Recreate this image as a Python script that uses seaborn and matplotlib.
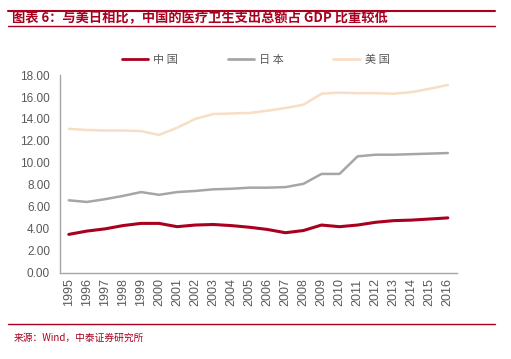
import numpy as np
import pandas as pd
import matplotlib
matplotlib.use("Agg")
import matplotlib.pyplot as plt
import seaborn as sns
from matplotlib.ticker import FixedLocator, FormatStrFormatter

years = list(range(1995, 2017))
china = [3.5, 3.8, 4.0, 4.3, 4.5, 4.5, 4.2, 4.35, 4.4, 4.3, 4.15,
         3.95, 3.65, 3.85, 4.35, 4.2, 4.35, 4.6, 4.75, 4.8, 4.9, 5.0]
japan = [6.6, 6.45, 6.7, 7.0, 7.35, 7.1, 7.35, 7.45, 7.6, 7.65, 7.75,
         7.75, 7.8, 8.1, 9.0, 9.0, 10.6, 10.75, 10.75, 10.8, 10.85, 10.9]
usa = [13.1, 13.0, 12.95, 12.95, 12.9, 12.55, 13.2, 14.0, 14.45, 14.5, 14.55,
       14.75, 15.0, 15.3, 16.3, 16.4, 16.35, 16.35, 16.3, 16.45, 16.75, 17.1]
names = ["中国", "日本", "美国"]
colors = ["#A8001E", "#A6A6A6", "#F7DEC5"]

df = pd.DataFrame({"year": years * 3,
                   "value": china + japan + usa,
                   "country": [n for n in names for _ in years]})

sns.set_style("white")
plt.rcParams['font.family'] = ['Noto Sans CJK SC', 'DejaVu Sans']

fig = plt.figure(figsize=(5.11, 3.59), dpi=100)
ax = fig.add_axes([0.117, 0.24, 0.777, 0.551])
sns.lineplot(data=df, x="year", y="value", hue="country", hue_order=names,
             palette=colors, linewidth=1.8, ax=ax, legend=False)
ax.lines[0].set_linewidth(2.2)

ax.set_xlim(1994.5, 2016.5)
ax.set_ylim(0, 18)
ax.set_xticks(years)
ax.set_xticklabels([str(y) for y in years], rotation=90, fontsize=9,
                   color="#595959", family="Liberation Sans")
ax.xaxis.set_minor_locator(FixedLocator(np.arange(1994.5, 2017, 1)))
ax.tick_params(axis="x", which="major", length=0, pad=4)
ax.tick_params(axis="x", which="minor", length=4, color="#A6A6A6", direction="out")
ax.set_yticks(np.arange(0, 19, 2))
ax.yaxis.set_major_formatter(FormatStrFormatter("%.2f"))
ax.tick_params(axis="y", length=4, color="#A6A6A6", direction="out", labelsize=8.5,
               labelcolor="#595959", pad=3)
for lab in ax.get_yticklabels():
    lab.set_family("Liberation Sans")
ax.set_xlabel("")
ax.set_ylabel("")
for s in ["top", "right"]:
    ax.spines[s].set_visible(False)
for s in ["left", "bottom"]:
    ax.spines[s].set_color("#A6A6A6")
    ax.spines[s].set_linewidth(1)

handles = [plt.Line2D([], [], color=c, lw=2) for c in colors]
fig.legend(handles, ["中 国", "日 本", "美 国"], loc="center", bbox_to_anchor=(0.5, 0.833),
           ncol=3, frameon=False, fontsize=8, columnspacing=4.5, handlelength=2.4,
           handletextpad=0.4, labelcolor="#595959")

# title and source bars
red = "#A8001E"
fig.add_artist(plt.Line2D([0.016, 0.969], [0.969, 0.969], color=red, lw=1.5))
fig.add_artist(plt.Line2D([0.016, 0.969], [0.927, 0.927], color=red, lw=1))
fig.text(0.024, 0.948, "图表 6：与美日相比，中国的医疗卫生支出总额占 GDP 比重较低",
         color=red, fontsize=9.5, fontweight="bold", va="center", ha="left")
fig.add_artist(plt.Line2D([0.016, 0.969], [0.097, 0.097], color=red, lw=1))
fig.text(0.027, 0.058, "来源：Wind，中泰证券研究所", color=red, fontsize=7,
         va="center", ha="left")

fig.savefig("out.png", dpi=100)
